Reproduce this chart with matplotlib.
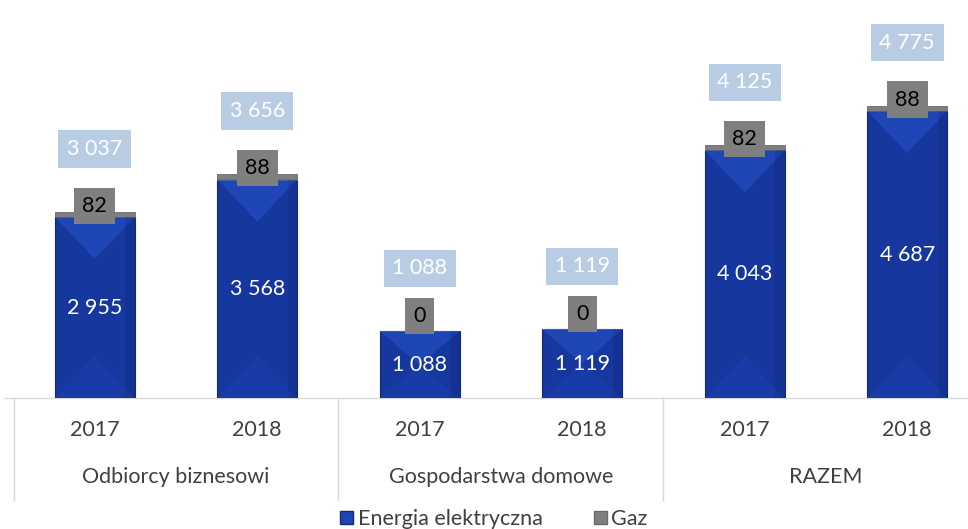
import numpy as np
import matplotlib
matplotlib.use("Agg")
import matplotlib.pyplot as plt
import matplotlib.transforms as mtransforms
from matplotlib.patches import Polygon, Patch

plt.rcParams['font.family'] = ['Lato', 'DejaVu Sans']

groups = ['Odbiorcy biznesowi', 'Gospodarstwa domowe', 'RAZEM']
years = ['2017', '2018', '2017', '2018', '2017', '2018']
energia = [2955, 3568, 1088, 1119, 4043, 4687]
gaz = [82, 88, 0, 0, 82, 88]
razem = [3037, 3656, 1088, 1119, 4125, 4775]

def fmt(v):
    return f"{v:,}".replace(",", " ")

blue = '#16379e'
grey = '#7f7f7f'
light = '#b8cce4'
fs = 15.5

fig = plt.figure(figsize=(9.68, 5.29), dpi=100)
ax = fig.add_axes([13.5 / 968, 131 / 529, 1 - 13.5 / 968, 398 / 529])
x = np.arange(len(energia))
w = 0.49

bars = ax.bar(x, energia, width=w, color=blue, edgecolor='#10297a', linewidth=0.8, zorder=2)
ax.bar(x, gaz, bottom=energia, width=w, color=grey, edgecolor='#6a6a6a', linewidth=0.6, zorder=2)

ax.set_xlim(-0.5, -0.5 + (968 - 13.5) / 162.5)
ax.set_ylim(0, 6500)

# soft bevel look on the blue bars
px_per_unit = 398 / 6500
for b in bars:
    x0, bw, h = b.get_x(), b.get_width(), b.get_height()
    depth = min(42 / px_per_unit, h / 2)
    xm = x0 + bw / 2
    ax.add_patch(Polygon([(x0, h), (x0 + bw, h), (xm, h - depth)], closed=True,
                         color='#2955cc', alpha=0.5, lw=0, zorder=3))
    ax.add_patch(Polygon([(x0, 0), (x0 + bw, 0), (xm, depth)], closed=True,
                         color='#1e42b3', alpha=0.45, lw=0, zorder=3))
    ax.add_patch(Polygon([(x0 + bw * 0.88, 0), (x0 + bw, 0), (x0 + bw, h), (x0 + bw * 0.88, h)],
                         closed=True, color='#0c2268', alpha=0.2, lw=0, zorder=3))

# labels
for i in range(len(energia)):
    ax.text(x[i], energia[i] / 2, fmt(energia[i]), ha='center', va='center',
            color='white', fontsize=fs, zorder=5)
    off = 250 if gaz[i] == 0 else gaz[i] + 100
    ax.text(x[i], energia[i] + off, fmt(gaz[i]), ha='center', va='center',
            color='black', fontsize=fs, zorder=5,
            bbox=dict(boxstyle='square,pad=0.38', fc=grey, ec='none'))
    ax.text(x[i], razem[i] + 1030, fmt(razem[i]), ha='center', va='center',
            color='white', fontsize=fs, zorder=5,
            bbox=dict(boxstyle='square,pad=0.4', fc=light, ec='none'))

for s in ax.spines.values():
    s.set_visible(False)
ax.set_xticks([])
ax.set_yticks([])

trans = mtransforms.blended_transform_factory(ax.transData, fig.transFigure)
ax.plot([-0.56, 6], [0, 0], color='#d9d9d9', lw=1, clip_on=False, zorder=1)
for edge in [-0.5, 1.5, 3.5, 5.5]:
    ax.plot([edge, edge], [1 - 398 / 529, 1 - 500 / 529], color='#d9d9d9',
            lw=1, transform=trans, clip_on=False)
for i, y in enumerate(years):
    ax.text(x[i], 1 - 430 / 529, y, ha='center', va='center', fontsize=fs,
            color='#404040', transform=trans)
for g, name in enumerate(groups):
    ax.text(2 * g + 0.5, 1 - 477 / 529, name, ha='center', va='center', fontsize=fs,
            color='#404040', transform=trans)

handles = [Patch(facecolor='#1f45b5', edgecolor='#10297a', label='Energia elektryczna'),
           Patch(facecolor=grey, edgecolor='#6a6a6a', label='Gaz')]
fig.legend(handles=handles, loc='center', bbox_to_anchor=(494 / 968, 1 - 519 / 529), ncol=2,
           frameon=False, fontsize=fs, handlelength=0.6, handleheight=0.6,
           handletextpad=0.2, columnspacing=2.4, labelcolor='#404040', borderpad=0)

fig.savefig('out.png', dpi=100)
